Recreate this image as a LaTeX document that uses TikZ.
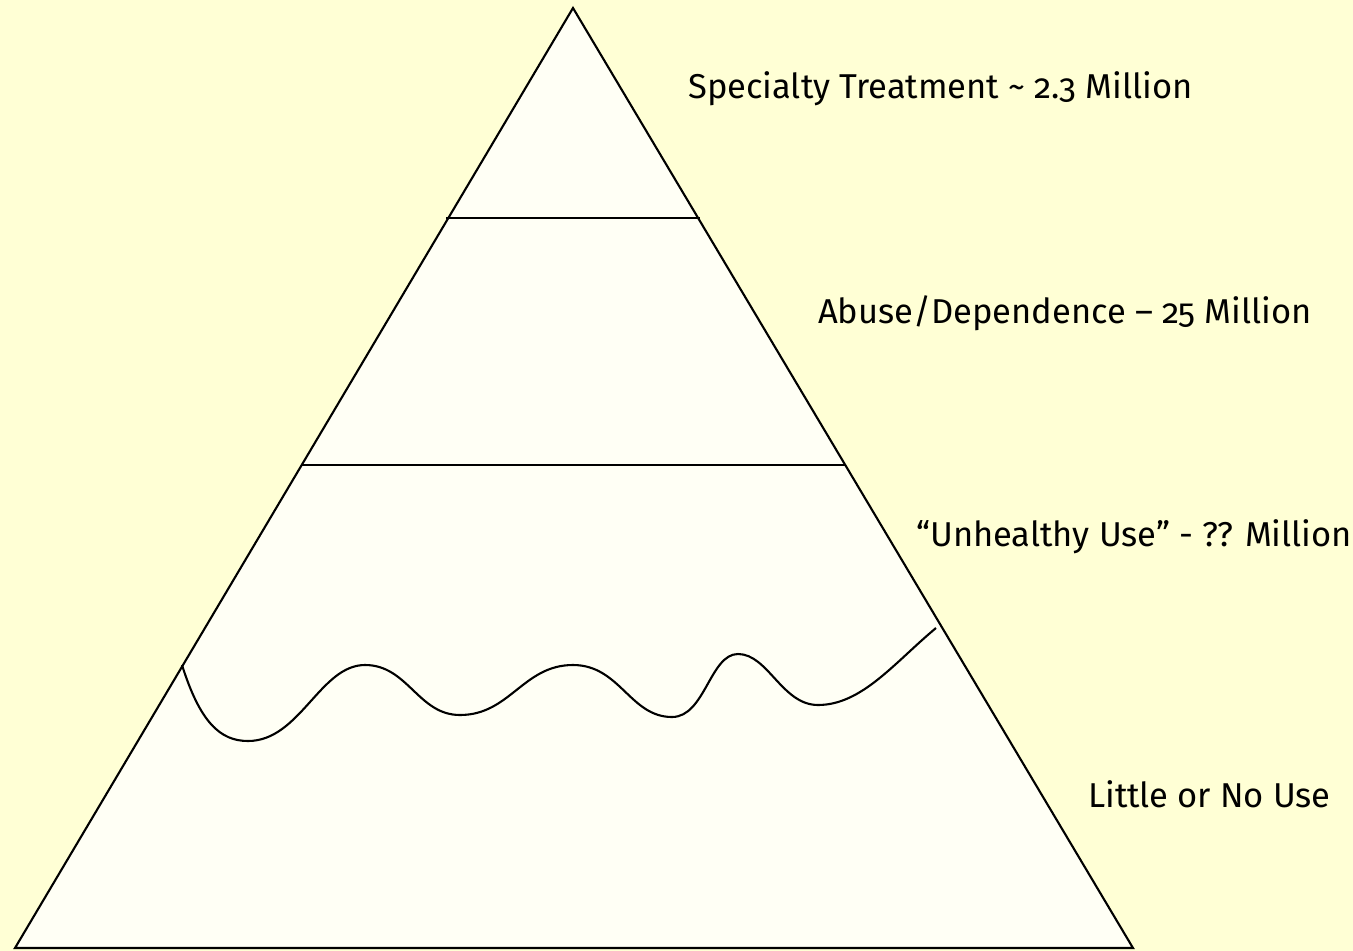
\documentclass[tikz,border=0pt]{standalone}
\usepackage{fontspec}
\setmainfont{Fira Sans}[Numbers=OldStyle]
\definecolor{pagebg}{RGB}{255,255,213}
\definecolor{tierfill}{RGB}{255,255,245}
\begin{document}
\begin{tikzpicture}[x=1pt,y=-1pt,
  edge/.style={line width=2.1pt,black},
  tierlabel/.style={anchor=west,inner sep=0pt,font=\fontsize{34.5}{40}\selectfont}]
  % page background
  \fill[pagebg] (0,0) rectangle (1353,951);
  \useasboundingbox (0,0) rectangle (1353,951);
  % pyramid corners
  \coordinate (apex) at (573,8);
  \coordinate (bl) at (15,948);
  \coordinate (br) at (1133,948);
  \filldraw[edge,fill=tierfill,line join=miter] (apex) -- (br) -- (bl) -- cycle;
  % tier dividers
  \coordinate (d1l) at (446,218);
  \coordinate (d1r) at (700,218);
  \coordinate (d2l) at (302,465);
  \coordinate (d2r) at (845,465);
  \draw[edge] (d1l) -- (d1r);
  \draw[edge] (d2l) -- (d2r);
  % wavy boundary between the two lowest tiers
  \coordinate (w0) at (182,665);
  \coordinate (w9) at (936,628);
  \draw[edge,line join=round] (w0)
    .. controls (200,722) and (220,741) .. (248,741)
    .. controls (300,741) and (320,665) .. (365,665)
    .. controls (408,665) and (418,715) .. (460,715)
    .. controls (510,715) and (523,665) .. (573,665)
    .. controls (620,665) and (630,717) .. (672,717)
    .. controls (705,717) and (710,654) .. (738,654)
    .. controls (768,654) and (782,705) .. (818,705)
    .. controls (862,705) and (895,662) .. (w9);
  % labels
  \node[tierlabel] (t1) at (688,89) {Specialty Treatment \textasciitilde\ 2.3 Million};
  \node[tierlabel] (t2) at (818,313) {Abuse/Dependence – 25 Million};
  \node[tierlabel] (t3) at (916,537) {“Unhealthy Use” - ?? Million};
  \node[tierlabel] (t4) at (1088,794) {Little or No Use};
\end{tikzpicture}
\end{document}
